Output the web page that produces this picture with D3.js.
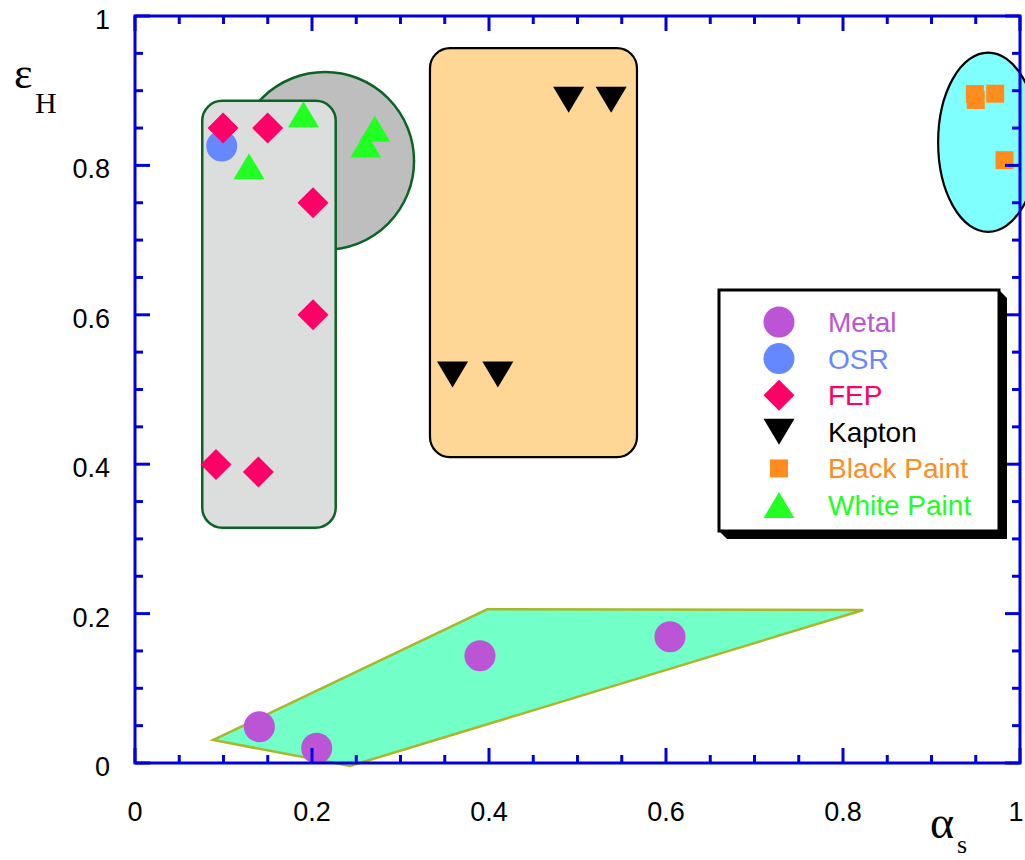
<!DOCTYPE html>
<html>
<head>
<meta charset="utf-8">
<script src="https://cdn.jsdelivr.net/npm/d3@7"></script>
<style>
  html, body { margin: 0; padding: 0; background: #fff; overflow: hidden; }
  svg { display: block; }
  text { font-family: "Liberation Sans", Arial, sans-serif; }
  .serif { font-family: "Liberation Serif", "Times New Roman", serif; }
</style>
</head>
<body>
<svg id="chart" width="1025" height="860"></svg>
<script>
// ---- Axis ticks ----
const xTickValues = [0, 0.2, 0.4, 0.6, 0.8, 1];
const xTickLabels = ["0", "0.2", "0.4", "0.6", "0.8", "1"];
const yTickValues = [0, 0.2, 0.4, 0.6, 0.8, 1];
const yTickLabels = ["0", "0.2", "0.4", "0.6", "0.8", "1"];
const minorStep = 0.05;

// ---- Material measurements (alpha_s, epsilon_H) ----
const metal      = [[0.1405, 0.0486], [0.2053, 0.0197], [0.3898, 0.1436], [0.6045, 0.169]];
const osr        = [[0.098, 0.826]];
const fep        = [[0.0995, 0.85], [0.1499, 0.85], [0.2011, 0.75], [0.2011, 0.6], [0.0915, 0.3995], [0.1394, 0.3896]];
const kapton     = [[0.3588, 0.52], [0.41, 0.52], [0.49, 0.888], [0.538, 0.888]];
const blackPaint = [[0.949, 0.8956], [0.950, 0.8876], [0.972, 0.896], [0.9825, 0.807]];
const whitePaint = [[0.1904, 0.8685], [0.1288, 0.799], [0.271, 0.849], [0.2607, 0.828]];

// ---- Material family regions ----
const metalRegion   = [[0.0885, 0.0308], [0.398, 0.2058], [0.823, 0.2048], [0.243, -0.004]];
const paintCircle   = { cx: 0.2147, cy: 0.806, rx: 0.1006, ry: 0.119 };
const fepRect       = { x0: 0.076, x1: 0.2268, y0: 0.315, y1: 0.8866 };
const kaptonRect    = { x0: 0.3333, x1: 0.5672, y0: 0.4096, y1: 0.957 };
const blackEllipse  = { cx: 0.964, cy: 0.831, rx: 0.0565, ry: 0.12 };

const seriesNames  = ["Metal", "OSR", "FEP", "Kapton", "Black Paint", "White Paint"];
const seriesColors = ["#bb55d6", "#6688ff", "#ff0068", "#000000", "#ff8c1c", "#22ff22"];
const seriesShapes = ["circle", "circle", "diamond", "triDown", "square", "triUp"];
const seriesData   = [metal, osr, fep, kapton, blackPaint, whitePaint];

// ---- Layout ----
const plot = { left: 135, right: 1020, top: 16, bottom: 763 };
const axisColor = "#0000dd";

const svg = d3.select("#chart");
const x = d3.scaleLinear().domain([0, 1]).range([plot.left, plot.right]);
const y = d3.scaleLinear().domain([0, 1]).range([plot.bottom, plot.top]);

// symbol path generators, centred on their bounding box
function symbolPath(shape) {
  switch (shape) {
    case "circle": { const r = 15.5; return `M${-r},0A${r},${r} 0 1,0 ${r},0A${r},${r} 0 1,0 ${-r},0Z`; }
    case "diamond": { const r = 15.5; return `M0,${-r}L${r},0L0,${r}L${-r},0Z`; }
    case "triDown": { const w = 15.5, h = 13; return `M${-w},${-h}L${w},${-h}L0,${h}Z`; }
    case "triUp": { const w = 15.5, h = 13; return `M0,${-h}L${w},${h}L${-w},${h}Z`; }
    case "square": { const s = 9; return `M${-s},${-s}L${s},${-s}L${s},${s}L${-s},${s}Z`; }
  }
}

// ---- Regions ----
const regions = svg.append("g");
regions.append("ellipse")
  .attr("cx", x(paintCircle.cx)).attr("cy", y(paintCircle.cy))
  .attr("rx", x(paintCircle.cx + paintCircle.rx) - x(paintCircle.cx))
  .attr("ry", y(paintCircle.cy) - y(paintCircle.cy + paintCircle.ry))
  .attr("fill", "#bebebe").attr("stroke", "#0a6424").attr("stroke-width", 2.5);

regions.append("rect")
  .attr("x", x(fepRect.x0)).attr("y", y(fepRect.y1))
  .attr("width", x(fepRect.x1) - x(fepRect.x0))
  .attr("height", y(fepRect.y0) - y(fepRect.y1))
  .attr("rx", 20).attr("ry", 20)
  .attr("fill", "#dcdedd").attr("stroke", "#0a6424").attr("stroke-width", 2.5);

regions.append("rect")
  .attr("x", x(kaptonRect.x0)).attr("y", y(kaptonRect.y1))
  .attr("width", x(kaptonRect.x1) - x(kaptonRect.x0))
  .attr("height", y(kaptonRect.y0) - y(kaptonRect.y1))
  .attr("rx", 20).attr("ry", 20)
  .attr("fill", "#fed696").attr("stroke", "#000").attr("stroke-width", 2.2);

regions.append("ellipse")
  .attr("cx", x(blackEllipse.cx)).attr("cy", y(blackEllipse.cy))
  .attr("rx", x(blackEllipse.cx + blackEllipse.rx) - x(blackEllipse.cx))
  .attr("ry", y(blackEllipse.cy) - y(blackEllipse.cy + blackEllipse.ry))
  .attr("fill", "#80ffff").attr("stroke", "#000").attr("stroke-width", 2.2);

regions.append("path")
  .attr("d", d3.line().x(d => x(d[0])).y(d => y(d[1]))(metalRegion) + "Z")
  .attr("fill", "#72ffc8").attr("stroke", "#a8b82a").attr("stroke-width", 2.5)
  .attr("stroke-linejoin", "miter");

// ---- Data markers ----
const markers = svg.append("g");
seriesData.forEach((data, i) => {
  markers.selectAll(null).data(data).enter().append("path")
    .attr("d", symbolPath(seriesShapes[i]))
    .attr("transform", d => `translate(${x(d[0])},${y(d[1])})`)
    .attr("fill", seriesColors[i]);
});

// ---- Axes: frame with inward ticks on all four sides ----
const axes = svg.append("g").attr("stroke", axisColor).attr("stroke-width", 3);
const allTicks = d3.range(0, 1 + 1e-9, minorStep).map(v => +v.toFixed(2));
const isMajor = v => Math.abs(v * 5 - Math.round(v * 5)) < 1e-6;
const majorLen = 15, minorLen = 8;

allTicks.forEach(v => {
  const len = isMajor(v) ? majorLen : minorLen;
  // bottom & top
  axes.append("line").attr("x1", x(v)).attr("x2", x(v)).attr("y1", plot.bottom).attr("y2", plot.bottom - len);
  axes.append("line").attr("x1", x(v)).attr("x2", x(v)).attr("y1", plot.top).attr("y2", plot.top + len);
  // left & right
  axes.append("line").attr("y1", y(v)).attr("y2", y(v)).attr("x1", plot.left).attr("x2", plot.left + len);
  axes.append("line").attr("y1", y(v)).attr("y2", y(v)).attr("x1", plot.right).attr("x2", plot.right - len);
});
axes.append("rect")
  .attr("x", plot.left).attr("y", plot.top)
  .attr("width", plot.right - plot.left).attr("height", plot.bottom - plot.top)
  .attr("fill", "none").attr("stroke-linejoin", "miter");

// ---- Tick labels ----
svg.append("g").selectAll("text").data(xTickValues).enter().append("text")
  .attr("x", d => Math.min(x(d), 1016)).attr("y", 821)
  .attr("text-anchor", "middle").attr("font-size", 27).attr("fill", "#000")
  .text((d, i) => xTickLabels[i]);

svg.append("g").selectAll("text").data(yTickValues).enter().append("text")
  .attr("x", 110).attr("y", d => y(d) + 13)
  .attr("text-anchor", "end").attr("font-size", 27).attr("fill", "#000")
  .text((d, i) => yTickLabels[i]);

// ---- Axis titles ----
svg.append("text").attr("class", "serif").attr("x", 14).attr("y", 88)
  .attr("font-size", 44).text("ε");
svg.append("text").attr("class", "serif").attr("x", 35).attr("y", 113)
  .attr("font-size", 30).text("H");
svg.append("text").attr("class", "serif").attr("x", 930).attr("y", 838)
  .attr("font-size", 46).text("α");
svg.append("text").attr("class", "serif").attr("x", 957).attr("y", 853)
  .attr("font-size", 26).text("s");

// ---- Legend ----
const lg = { x0: 719, y0: 290, x1: 999, y1: 531, shadow: 8 };
const legend = svg.append("g");
legend.append("path")
  .attr("d", `M${lg.x1},${lg.y0}L${lg.x1 + lg.shadow},${lg.y0 + lg.shadow}L${lg.x1 + lg.shadow},${lg.y1 + lg.shadow}` +
             `L${lg.x0 + lg.shadow},${lg.y1 + lg.shadow}L${lg.x0},${lg.y1}Z`)
  .attr("fill", "#000");
legend.append("rect")
  .attr("x", lg.x0).attr("y", lg.y0).attr("width", lg.x1 - lg.x0).attr("height", lg.y1 - lg.y0)
  .attr("fill", "#fff").attr("stroke", "#000").attr("stroke-width", 3);

const rowY0 = 322, rowStep = 36.6;
seriesNames.forEach((name, i) => {
  const ry = rowY0 + i * rowStep;
  legend.append("path")
    .attr("d", symbolPath(seriesShapes[i]))
    .attr("transform", `translate(779,${ry})`)
    .attr("fill", seriesColors[i]);
  legend.append("text")
    .attr("x", 828).attr("y", ry + 10)
    .attr("font-size", 28).attr("fill", seriesColors[i])
    .text(name);
});
</script>
</body>
</html>
